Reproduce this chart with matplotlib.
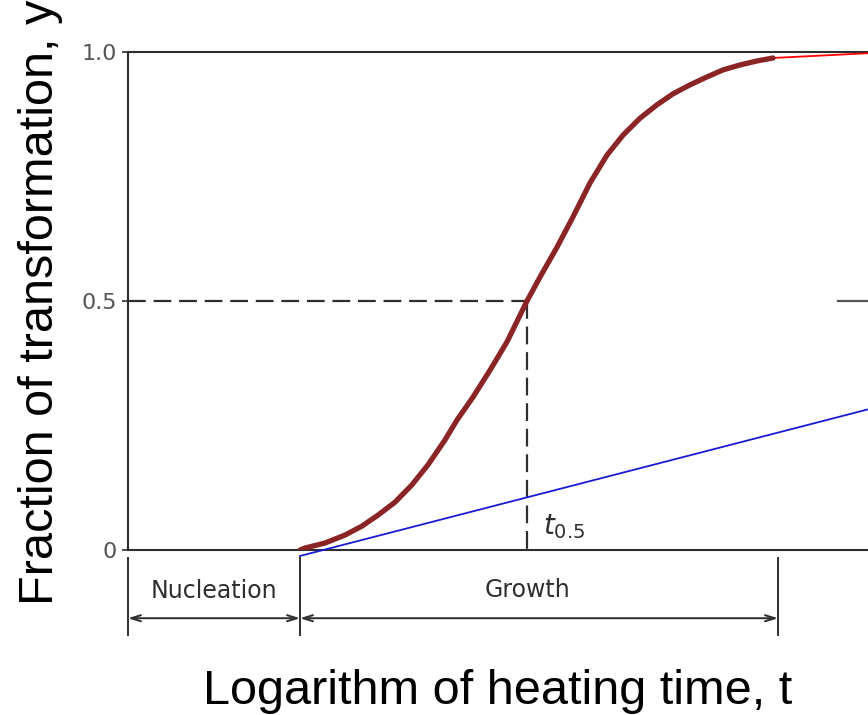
import matplotlib.pyplot as plt

# curve (x: log time, arbitrary units; y: fraction)
log_t = [1.72, 1.77, 1.97, 2.17, 2.34, 2.50, 2.67, 2.84, 3.00, 3.17, 3.29, 3.45, 3.62,
         3.79, 3.99, 4.12, 4.29, 4.45, 4.62, 4.79, 4.95, 5.12, 5.29, 5.45, 5.62, 5.79,
         5.95, 6.12, 6.29, 6.45]
frac = [0.0, 0.004, 0.014, 0.030, 0.048, 0.070, 0.096, 0.131, 0.171, 0.221, 0.261, 0.307,
        0.361, 0.418, 0.50, 0.548, 0.608, 0.669, 0.737, 0.793, 0.833, 0.867, 0.894, 0.916,
        0.934, 0.950, 0.964, 0.974, 0.982, 0.988]

red_x = [6.45, 7.45]
red_y = [0.988, 0.998]
blue_x = [1.72, 7.45]
blue_y = [-0.012, 0.285]

t_half = 3.99
nucl_end = 1.72
growth_end = 6.50

yticks = [0, 0.5, 1.0]
ytick_labels = ["0", "0.5", "1.0"]

dark = "#2e2e2e"

fig = plt.figure(figsize=(8.68, 7.15), dpi=100)
ax = fig.add_axes([128 / 868, 165 / 715, 840 / 868, 498 / 715])
ax.set_xlim(0, 8.40)
ax.set_ylim(0, 1)

for side in ["left", "top", "bottom"]:
    ax.spines[side].set_color(dark)
    ax.spines[side].set_linewidth(1.5)
ax.spines["right"].set_visible(False)

ax.set_xticks([])
ax.set_yticks(yticks)
ax.set_yticklabels(ytick_labels)
ax.tick_params(axis="y", length=4, width=1.2, color=dark, pad=4,
               labelsize=16, labelcolor="#555555")

# dashed guides at y = 0.5
ax.plot([0, t_half], [0.5, 0.5], color=dark, lw=1.6, dashes=(8, 3.5))
ax.plot([t_half, t_half], [0.5, 0], color=dark, lw=1.6, dashes=(8, 3.5))
ax.plot([7.10, 7.45], [0.5, 0.5], color="#555555", lw=1.6)

ax.plot(blue_x, blue_y, color="#1a1ad6", lw=1.3, clip_on=False, zorder=3)
ax.plot(red_x, red_y, color="red", lw=1.3, clip_on=False, zorder=3)
ax.plot(log_t, frac, color="#8b2424", lw=3.8, solid_capstyle="round",
        solid_joinstyle="round", zorder=4)

ax.text(4.15, 0.018, r"$t_{0.5}$", fontsize=20, color=dark, ha="left", va="bottom")

# brackets under the axis
for xv in [0, nucl_end, growth_end]:
    ax.plot([xv, xv], [-0.016, -0.171], color=dark, lw=1.4, clip_on=False)
arr = dict(arrowstyle="<->,head_length=0.7,head_width=0.22", color=dark, lw=1.4,
           shrinkA=0, shrinkB=0)
ax.annotate("", xy=(0, -0.137), xytext=(nucl_end, -0.137), arrowprops=arr,
            annotation_clip=False)
ax.annotate("", xy=(nucl_end, -0.137), xytext=(growth_end, -0.137), arrowprops=arr,
            annotation_clip=False)
ax.text(nucl_end / 2, -0.082, "Nucleation", fontsize=17, color=dark,
        ha="center", va="center")
ax.text(t_half, -0.080, "Growth", fontsize=17, color=dark, ha="center", va="center")

fig.text(498 / 868, 11 / 715, "Logarithm of heating time, t", fontsize=35,
         family="Liberation Sans", ha="center", va="baseline")
fig.text(53 / 868, 1 - 302 / 715, "Fraction of transformation, y", fontsize=35,
         family="Liberation Sans", rotation=90, rotation_mode="anchor",
         ha="center", va="baseline")

fig.savefig("out.png", dpi=100)
